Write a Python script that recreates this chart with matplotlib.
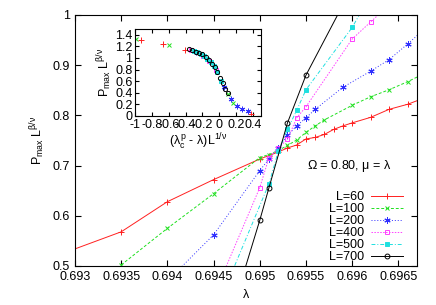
import numpy as np
import matplotlib.pyplot as plt

plt.rcParams['font.family'] = ['Liberation Sans', 'DejaVu Sans']
plt.rcParams['font.size'] = 9
plt.rcParams['mathtext.fontset'] = 'custom'
plt.rcParams['mathtext.rm'] = 'Liberation Sans'
plt.rcParams['mathtext.it'] = 'Liberation Sans'

labels = ["L=60", "L=100", "L=200", "L=400", "L=500", "L=700"]
colors = ["#ff2020", "#20e020", "#3030ff", "#ff40ff", "#20e0e0", "black"]

# main panel: lambda vs P_max L^(beta/nu)
lam60 = [0.6925, 0.6935, 0.694, 0.6945, 0.695, 0.6951, 0.6952, 0.6953, 0.6954, 0.6955,
         0.6956, 0.6957, 0.6958, 0.6959, 0.696, 0.6962, 0.6964, 0.6966, 0.6968]
p60 = [0.50, 0.568, 0.628, 0.672, 0.713, 0.720, 0.727, 0.735, 0.741, 0.753,
       0.756, 0.762, 0.772, 0.779, 0.785, 0.796, 0.812, 0.822, 0.836]
lam100 = [0.6935, 0.694, 0.6945, 0.695, 0.6951, 0.6952, 0.6953, 0.6954, 0.6955,
          0.6956, 0.6957, 0.696, 0.6962, 0.6964, 0.6966, 0.6968]
p100 = [0.502, 0.575, 0.644, 0.716, 0.722, 0.730, 0.740, 0.751, 0.766,
        0.779, 0.791, 0.820, 0.837, 0.851, 0.867, 0.885]
lam200 = [0.694, 0.6945, 0.695, 0.6951, 0.6952, 0.6953, 0.6954, 0.6955, 0.6956,
          0.6959, 0.6962, 0.6964, 0.6966, 0.6968]
p200 = [0.47, 0.562, 0.690, 0.713, 0.735, 0.760, 0.779, 0.795, 0.812,
        0.856, 0.888, 0.911, 0.942, 0.975]
lam400 = [0.6945, 0.695, 0.6951, 0.6952, 0.6953, 0.6954, 0.6955, 0.696, 0.6962, 0.6964]
p400 = [0.44, 0.656, 0.716, 0.735, 0.752, 0.795, 0.817, 0.952, 0.986, 1.02]
lam500 = [0.6945, 0.6951, 0.6952, 0.6953, 0.6954, 0.6955, 0.696, 0.6962]
p500 = [0.40, 0.664, 0.728, 0.772, 0.810, 0.851, 0.975, 1.04]
lam700 = [0.6945, 0.695, 0.6951, 0.6953, 0.6955, 0.696]
p700 = [0.29, 0.591, 0.656, 0.785, 0.880, 1.055]

# inset: data collapse
cx60 = [-0.93, -0.67, -0.41, 0.38]
cy60 = [1.31, 1.24, 1.14, 0.04]
cx100 = [-0.99, -0.60, 0.10, 0.17]
cy100 = [1.325, 1.215, 0.38, 0.22]
cx200 = [-0.27, 0.06, 0.14, 0.21, 0.27, 0.34]
cy200 = [1.10, 0.50, 0.29, 0.17, 0.125, 0.085]
cx400 = [-0.33, -0.19, -0.12, -0.04]
cy400 = [1.13, 1.04, 0.95, 0.80]
cx500 = [-0.30, -0.26, -0.22, -0.18, -0.14, -0.10, -0.06, -0.02, 0.02]
cy500 = [1.12, 1.10, 1.07, 1.04, 0.99, 0.93, 0.86, 0.76, 0.61]
cx700 = [-0.36, -0.32, -0.28, -0.24, -0.20, -0.16, -0.12, -0.08, -0.05, -0.02, 0.01, 0.04, 0.07, 0.10]
cy700 = [1.15, 1.13, 1.11, 1.09, 1.06, 1.02, 0.97, 0.90, 0.84, 0.76, 0.66, 0.56, 0.47, 0.39]

main = [(lam60, p60), (lam100, p100), (lam200, p200), (lam400, p400), (lam500, p500), (lam700, p700)]
inset = [(cx60, cy60), (cx100, cy100), (cx200, cy200), (cx400, cy400), (cx500, cy500), (cx700, cy700)]

styles = [
    dict(ls="-", marker="+", ms=4.5, mfc="none"),
    dict(ls=(0, (3, 2)), marker="x", ms=3.5, mfc="none"),
    dict(ls=(0, (1, 2)), marker=(6, 2, 0), ms=4.5, mfc="none"),
    dict(ls=(0, (1.5, 1.5)), marker="s", ms=3.5, mfc="none"),
    dict(ls=(0, (4, 2, 1, 2)), marker="s", ms=3.5),
    dict(ls="-", marker="o", ms=3.5, mfc="none"),
]

fig = plt.figure(figsize=(4.36, 3.05), dpi=100)
ax = fig.add_axes([0.172, 0.128, 0.784, 0.823])

for (x, y), lab, c, st in zip(main, labels, colors, styles):
    ax.plot(x, y, color=c, lw=0.7, mew=0.7, label=lab, **st)

ax.set_xlim(0.693, 0.6967)
ax.set_ylim(0.5, 1.0)
ax.set_xticks(np.arange(0.693, 0.6966, 0.0005))
ax.set_xticklabels(["0.693", "0.6935", "0.694", "0.6945", "0.695", "0.6955", "0.696", "0.6965"])
ax.set_yticks([0.5, 0.6, 0.7, 0.8, 0.9, 1.0])
ax.set_yticklabels(["0.5", "0.6", "0.7", "0.8", "0.9", "1"])
ax.tick_params(direction="in", top=True, right=True, length=4)
ax.set_xlabel(r"$\lambda$")
ax.set_ylabel(r"P$_{\rm max}$ L$^{\beta/\nu}$")
ax.text(0.678, 0.4, r"$\Omega$ = 0.80, $\mu$ = $\lambda$", transform=ax.transAxes, ha="left", va="center")

ax.legend(loc="lower right", bbox_to_anchor=(0.96, 0.01), frameon=False, markerfirst=False,
          numpoints=1, handlelength=2.6, handletextpad=0.55, labelspacing=0.0,
          borderpad=0, borderaxespad=0)

ins = fig.add_axes([0.310, 0.620, 0.289, 0.285])
for (x, y), c, st in zip(inset, colors, styles):
    st2 = dict(st)
    st2.pop("ls")
    st2["ms"] = st2["ms"] - 0.5
    ins.plot(x, y, ls="none", color=c, mew=0.7, **st2)
ins.set_xlim(-1, 0.5)
ins.set_ylim(0, 1.5)
ins.set_xticks([-1, -0.8, -0.6, -0.4, -0.2, 0, 0.2, 0.4])
ins.set_xticklabels(["-1", "-0.8", "-0.6", "-0.4", "-0.2", "0", "0.2", "0.4"])
ins.set_yticks([0, 0.2, 0.4, 0.6, 0.8, 1.0, 1.2, 1.4])
ins.set_yticklabels(["0", "0.2", "0.4", "0.6", "0.8", "1", "1.2", "1.4"])
ins.tick_params(direction="in", top=True, right=True, length=3, pad=2)
ins.set_xlabel(r"($\lambda_{\rm c}^{\rm p}$ - $\lambda$)L$^{1/\nu}$", labelpad=1)
ins.set_ylabel(r"P$_{\rm max}$ L$^{\beta/\nu}$", labelpad=1)

fig.savefig("out.png", dpi=100)
